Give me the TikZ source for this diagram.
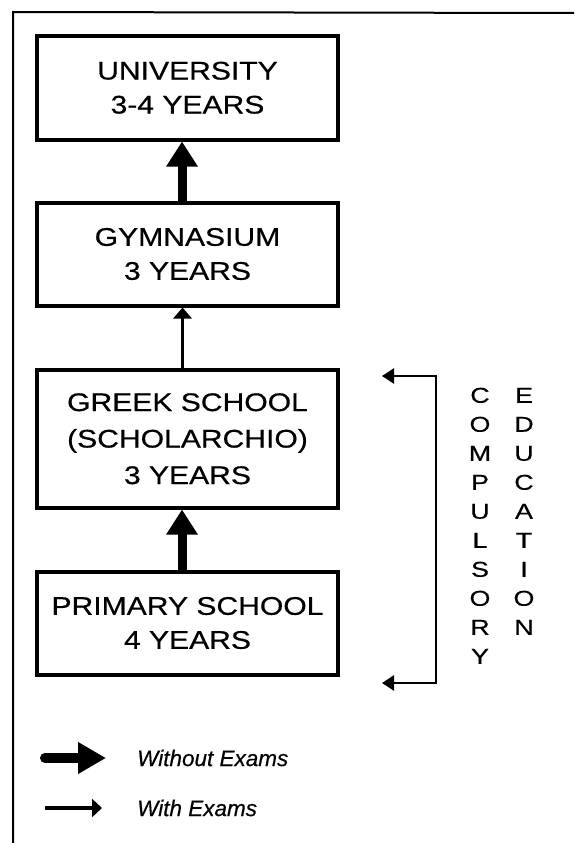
\documentclass[tikz,border=0pt]{standalone}
\usepackage{fontspec}
\setmainfont{Liberation Sans}
\newfontfamily\boxfont[FakeStretch=1.18,FakeBold=0.5]{Liberation Sans}
\newfontfamily\colfont[FakeStretch=1.25,FakeBold=0.4]{Liberation Sans}
\newfontfamily\legendfont[FakeBold=0.4]{Liberation Sans}
\usetikzlibrary{arrows.meta}

\begin{document}
\begin{tikzpicture}[x=1pt,y=-1pt,
  stage/.style={draw, line width=4pt, minimum width=301pt, inner sep=0pt,
    align=center, font=\boxfont\fontsize{25.5}{34}\selectfont},
  bigarrow/.style={line width=9pt, -{Triangle[length=25pt,width=30pt]}},
  smallarrow/.style={line width=3.5pt, -{Triangle[length=11pt,width=18pt]}},
  bracketline/.style={line width=2.5pt, {Triangle[length=12pt,width=15pt]}-{Triangle[length=12pt,width=15pt]}},
  vletter/.style={inner sep=0pt, text height=15.5pt, text depth=0pt,
    font=\colfont\fontsize{21.5}{21.5}\selectfont},
  legendtext/.style={inner sep=0pt, anchor=west,
    font=\legendfont\itshape\fontsize{22.5}{22.5}\selectfont}]
\useasboundingbox (0,0) rectangle (574,843);

% open frame: only the left and top sides fall on the page
\draw[line width=2pt] (13,843) -- (13,12) -- (574,13);

% school stages
\node[stage, minimum height=103.5pt] (uni) at (187.5,87.75)
  {UNIVERSITY\\3-4 YEARS};
\node[stage, minimum height=103pt] (gym) at (187.5,254)
  {GYMNASIUM\\3 YEARS};
\node[stage, minimum height=137.5pt,
      font=\boxfont\fontsize{25.5}{36.5}\selectfont] (greek) at (187.5,438.75)
  {GREEK SCHOOL\\(SCHOLARCHIO)\\3 YEARS};
\node[stage, minimum height=103pt] (prim) at (187.5,623)
  {PRIMARY SCHOOL\\4 YEARS};

% transitions between stages
\draw[bigarrow] ([xshift=-5.5pt]gym.north) -- ([xshift=-5.5pt]uni.south);
\draw[smallarrow] ([xshift=-5pt]greek.north) -- ([xshift=-5pt]gym.south);
\draw[bigarrow] ([xshift=-5.5pt]prim.north) -- ([xshift=-5.5pt]greek.south);

% bracket marking compulsory education
\coordinate (bt) at (382,376);
\coordinate (btc) at (436,376);
\coordinate (bbc) at (436,683);
\coordinate (bb) at (382,683);
\draw[bracketline] (bt) -- (btc) -- (bbc) -- (bb);

% vertical labels
\foreach \ch [count=\i] in {C,O,M,P,U,L,S,O,R,Y}
  \node[vletter] (comp\i) at (480,{395+(\i-1)*29}) {\ch};
\foreach \ch [count=\i] in {E,D,U,C,A,T,I,O,N}
  \node[vletter] (edu\i) at (524,{395+(\i-1)*29}) {\ch};

% legend
\coordinate (lt1) at (45,758);
\coordinate (lh1) at (106,758);
\coordinate (lt2) at (45,808);
\coordinate (lh2) at (102,808);
\draw[line width=10pt, line cap=round, -{Triangle[length=28pt,width=30pt]}] (lt1) -- (lh1);
\draw[smallarrow, -{Triangle[length=10pt,width=18pt]}] (lt2) -- (lh2);
\node[legendtext] (lwo) at (137,758) {Without Exams};
\node[legendtext] (lwi) at (137,808) {With Exams};
\end{tikzpicture}
\end{document}
